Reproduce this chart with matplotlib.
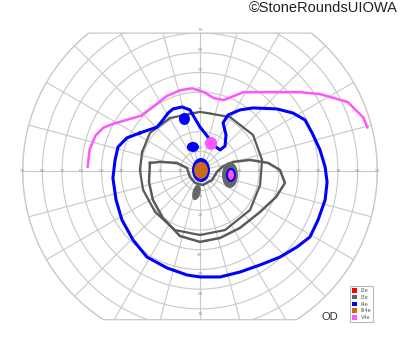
import numpy as np
import matplotlib
matplotlib.use("Agg")
import matplotlib.pyplot as plt
from matplotlib.patches import Ellipse, Patch


# ---- Isopters (degrees: x right, y up) ----
# V4e (pink) - open curve across the upper field
v4e_x = [-57, -56, -53, -49, -44, -37, -30, -22, -17, -10, -4, 2, 7, 12, 17, 22, 34, 51, 61, 68, 75, 83, 85]
v4e_y = [2, 11, 18, 22, 24, 26, 28, 34, 38, 41, 42, 40, 37, 36, 38, 40, 40, 40, 39, 37, 35, 27, 22]

# I4e (blue) - closed, with the notch above fixation
i4e_x = [-30.5, -21.8, -18.8, -16.2, -13.7, -9.1, -5.1, -3.0, 0.0, 3.6, 6.6, 10.2, 12.7, 13.2, 11.7,
         14.2, 20.3, 26.9, 39.1, 47.2, 53.3, 56.9, 60.9, 63.5, 64.5, 63.5, 59.9, 55.8, 49.2, 40.6,
         30.5, 20.3, 10.2, 0.0, -6.6, -16.8, -26.9, -34.0, -39.6, -42.6, -44.2, -43.1, -41.6, -37.1]
i4e_y = [19.3, 22.3, 25.9, 29.4, 31.5, 32.5, 31.0, 27.4, 22.3, 17.8, 13.2, 10.7, 12.7, 18.3, 24.4,
         28.4, 31.0, 32.0, 31.5, 29.4, 25.9, 19.3, 10.7, 2.0, -5.6, -14.7, -24.9, -33.5, -38.6, -43.7,
         -47.7, -51.3, -53.8, -53.8, -52.8, -49.2, -43.7, -35.0, -24.9, -14.7, -3.6, 5.6, 12.2, 16.8]

# I3e (gray) - loop dipping under fixation
i3e_loop_x = [-25.4, -20.3, -11.7, -6.6, -5.1, -2.5, 1.5, 6.1, 8.6, 11.2, 16.8, 25.4, 34.5, 40.6,
              43.1, 38.6, 30.5, 20.3, 10.2, 0.0, -10.2, -18.8, -23.9, -25.9]
i3e_loop_y = [4.1, 4.6, 4.1, 1.5, -3.0, -6.1, -7.1, -4.6, -0.5, 2.0, 4.6, 5.6, 4.1, 0.5,
              -6.1, -13.2, -20.8, -28.9, -34.0, -36.0, -33.0, -23.9, -14.7, -5.6]

# I3e (gray) - roughly round isopter around 30 deg
i3e_ring_x = [-29.4, -25.4, -15.2, 0.0, 15.2, 26.9, 31.5, 30.5, 25.4, 12.7, 0.0, -12.7, -22.8, -28.9, -30.5]
i3e_ring_y = [9.6, 19.3, 26.9, 30.0, 27.4, 18.3, 5.6, -7.1, -19.8, -30.0, -32.5, -30.0, -20.8, -9.6, 0.5]

# small islands / scotomas: centre x, centre y, width, height (degrees)
spot_cx = [-7.9, -3.6, 5.6, 0.5, 0.5, 15.2, 15.7, 15.7, -1.8]
spot_cy = [26.4, 12.2, 14.0, 0.5, 0.3, -2.0, -2.0, -2.0, -10.9]
spot_w = [5.6, 6.1, 6.1, 9.1, 7.1, 8.1, 5.1, 3.0, 4.0]
spot_h = [6.1, 5.1, 6.6, 12.2, 8.6, 13.2, 7.1, 5.1, 8.0]
spot_kind = ["I4e", "I4e", "V4e", "I4e", "III4e", "I3e", "I4e", "V4e", "I3e"]
spot_tilt = [0, 0, 0, 0, 0, 0, 0, 0, -15]

legend_labels = ["I2e", "I3e", "I4e", "III4e", "V4e"]
colors = {"I2e": "#ff0000", "I3e": "#666666", "I4e": "#0000ff",
          "III4e": "#cc6a1c", "V4e": "#ff55ff"}

rings = list(range(10, 100, 10))
meridians = list(range(0, 360, 15))
top_limit = 70
bottom_limit = -75.5

grid_col = "#c8c8c8"

fig = plt.figure(figsize=(4, 3.52), dpi=100)
ax = fig.add_axes([0, 0, 1, 1])
ax.set_xlim(-101.5, 101.5)
ax.set_ylim(-91.9, 86.8)
ax.axis("off")

# ---- chart outline: 90 deg circle cut flat at top and bottom ----
t = np.linspace(0, 2 * np.pi, 721)
bx = 90 * np.cos(t)
by = np.clip(90 * np.sin(t), bottom_limit, top_limit)
clip_patch = plt.Polygon(np.column_stack([bx, by]), closed=True, fill=False,
                         edgecolor=grid_col, lw=0.9)
ax.add_patch(clip_patch)

for r in rings:
    ln, = ax.plot(r * np.cos(t), r * np.sin(t), color=grid_col, lw=0.8)
    ln.set_clip_path(clip_patch)

for m in meridians:
    a = np.deg2rad(m)
    ln, = ax.plot([0, 90 * np.cos(a)], [0, 90 * np.sin(a)], color=grid_col, lw=0.8)
    ln.set_clip_path(clip_patch)

# axis numbers
for r in rings:
    for sx in (-1, 1):
        ax.text(sx * r, 0, str(r), fontsize=3.2, color="#999999",
                ha="center", va="center", zorder=2)
    if r <= 70:
        ax.text(0, r + 1.5, str(r), fontsize=3.2, color="#999999",
                ha="center", va="center", zorder=2)
        ax.text(0, -r - 2.5, str(r), fontsize=3.2, color="#999999",
                ha="center", va="center", zorder=2)

# ---- isopters ----
ax.plot(i3e_ring_x + i3e_ring_x[:1], i3e_ring_y + i3e_ring_y[:1],
        color="#5a5a5a", lw=1.6, solid_joinstyle="round", zorder=3)
ax.plot(i3e_loop_x + i3e_loop_x[:1], i3e_loop_y + i3e_loop_y[:1],
        color="#5a5a5a", lw=1.8, solid_joinstyle="round", zorder=3)
ax.plot(i4e_x + i4e_x[:1], i4e_y + i4e_y[:1],
        color=colors["I4e"], lw=2.2, solid_joinstyle="round", zorder=4)
ax.plot(v4e_x, v4e_y, color=colors["V4e"], lw=1.8,
        solid_joinstyle="round", solid_capstyle="round", zorder=4)

for cx, cy, w, h, kind, tilt in zip(spot_cx, spot_cy, spot_w, spot_h, spot_kind, spot_tilt):
    ax.add_patch(Ellipse((cx, cy), w, h, angle=tilt, facecolor=colors[kind],
                         edgecolor="none", zorder=5))

# ---- labels ----
fig.text(0.995, 0.977, "\u00a9StoneRoundsUIOWA", ha="right", va="center",
         fontsize=10.5, family="Liberation Sans", color="#222222")
fig.text(0.805, 0.099, "OD", ha="left", va="center", fontsize=8,
         family="Liberation Sans", color="#333333")

handles = [Patch(facecolor=colors[k], edgecolor="none") for k in legend_labels]
leg = fig.legend(handles, legend_labels, loc="lower right",
                 bbox_to_anchor=(0.933, 0.085), fontsize=3.6, frameon=True,
                 fancybox=False, handlelength=0.9, handleheight=1.1,
                 handletextpad=0.8, labelspacing=0.35, borderpad=0.35,
                 borderaxespad=0)
leg.get_frame().set_edgecolor("#aaaaaa")
leg.get_frame().set_linewidth(0.8)
for txt in leg.get_texts():
    txt.set_color("#555555")

fig.savefig("out.png", dpi=100)
